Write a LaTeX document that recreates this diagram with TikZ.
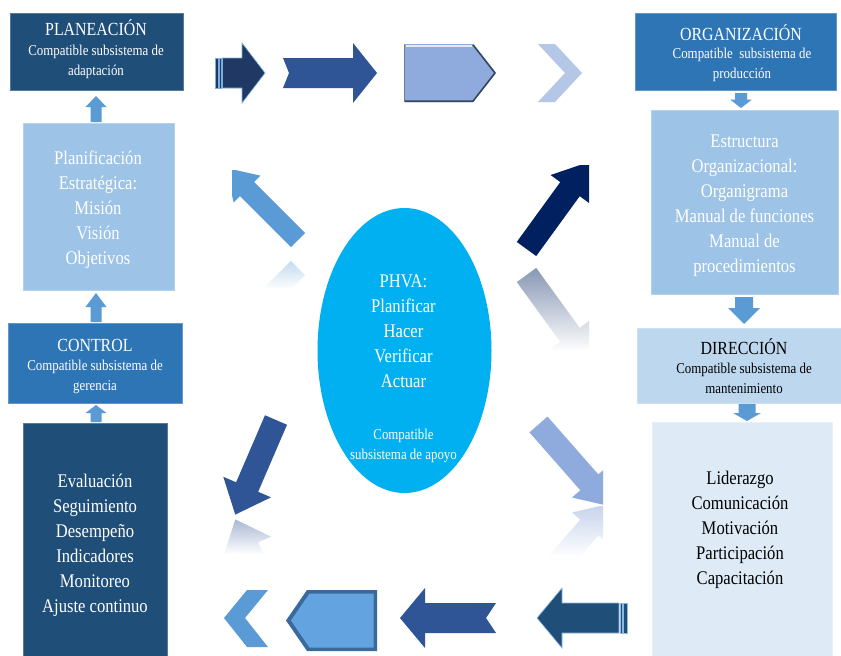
\documentclass[tikz,border=0pt]{standalone}
\usepackage{fontspec}
\setmainfont{Liberation Serif}[FakeStretch=0.86]
\usetikzlibrary{fadings,shapes.geometric}

\definecolor{cNavy}{HTML}{1F4E79}
\definecolor{cMid}{HTML}{2E75B6}
\definecolor{cLight}{HTML}{9DC3E6}
\definecolor{cPale}{HTML}{BDD7EE}
\definecolor{cPaler}{HTML}{DEEBF7}
\definecolor{cAccent}{HTML}{5B9BD5}
\definecolor{cDeep}{HTML}{203864}
\definecolor{cRoyal}{HTML}{2F5597}
\definecolor{cDark}{HTML}{002060}
\definecolor{cLav}{HTML}{8FAADC}
\definecolor{cLavPale}{HTML}{B4C7E7}
\definecolor{cSky}{HTML}{00B0F0}
\definecolor{cBevel}{HTML}{34465E}
\definecolor{cInset}{HTML}{3A6A9C}
\definecolor{cFace}{HTML}{63A3DF}

\newcommand\txtBody{\fontsize{19.3}{25}\selectfont}
\newcommand\txtHead{\fontsize{18.5}{22}\selectfont}
\newcommand\txtSub{\fontsize{15}{20}\selectfont}

% block arrow pointing along +x: shaft length #1, shaft half width #2,
% head half width #3, head length #4
\newcommand\arrowpath[4]{(0,-#2) -- (#1,-#2) -- (#1,-#3) -- ({#1+#4},0) -- (#1,#3) -- (#1,#2) -- (0,#2) -- cycle}

% vertical block arrow: x, tail y, head base y, tip y, shaft half, head half
\newcommand\vblock[6]{\fill[smallarr] ({#1-#5},#2) -- ({#1-#5},#3) -- ({#1-#6},#3) -- (#1,#4) -- ({#1+#6},#3) -- ({#1+#5},#3) -- ({#1+#5},#2) -- cycle;}

\tikzfading[name=reflfade, top color=transparent!100, bottom color=transparent!0]

\begin{document}
\begin{tikzpicture}[x=1pt,y=-1pt,
  box/.style={rectangle, inner sep=0pt, anchor=north west, draw=#1!75!white, line width=0.8pt, fill=#1},
  txt/.style={inner sep=0pt, align=center},
  body/.style={txt, font=\txtBody},
  head/.style={txt, font=\txtHead},
  sub/.style={txt, font=\txtSub},
  smallarr/.style={fill=cAccent}]
\useasboundingbox (0,0) rectangle (841,656);
\fill[white] (0,0) rectangle (841,656);

% ---------- left column ----------
\node[box=cNavy, minimum width=173pt, minimum height=77pt] (planbox) at (10,13) {};
\node[head, text=white] (planT) at (96,28) {PLANEACIÓN};
\node[sub, text=white] (planS) at (96,62) {Compatible subsistema de\\ adaptación};

\node[box=cLight, minimum width=151pt, minimum height=167pt] (strat) at (23,123) {};
\node[body, text=white] (stratT) at (98,210) {Planificación\\ Estratégica:\\ Misión\\ Visión\\ Objetivos};

\node[box=cMid, minimum width=174pt, minimum height=80pt] (ctrlbox) at (8,323) {};
\node[head, text=white] (ctrlT) at (95,345) {CONTROL};
\node[sub, text=white] (ctrlS) at (95,377) {Compatible subsistema de\\ gerencia};

\node[box=cNavy, minimum width=144pt, minimum height=240pt] (evalbox) at (23,423) {};
\node[body, text=white] (evalT) at (95,545) {Evaluación\\ Seguimiento\\ Desempeño\\ Indicadores\\ Monitoreo\\ Ajuste continuo};

\vblock{96}{122}{107}{96}{5.5}{10.5}
\vblock{96}{322}{307}{293}{5.5}{10.5}
\vblock{96}{422}{413}{405}{5.5}{10.5}

% ---------- right column ----------
\node[box=cMid, minimum width=201pt, minimum height=77pt] (orgbox) at (635,13) {};
\node[head, text=white] (orgT) at (741,33) {ORGANIZACIÓN};
\node[sub, text=white] (orgS) at (742,65) {Compatible~ subsistema de\\ producción};

\node[box=cLight, minimum width=187pt, minimum height=184pt] (estr) at (651,110) {};
\node[body, text=white] (estrT) at (744.5,206) {Estructura\\ Organizacional:\\ Organigrama\\ Manual de funciones\\ Manual de\\ procedimientos};

\node[box=cPale, minimum width=205pt, minimum height=75pt] (dirbox) at (637,328) {};
\node[head, text=black] (dirT) at (744,347) {DIRECCIÓN};
\node[sub, text=black] (dirS) at (744,378) {Compatible subsistema de\\ mantenimiento};

\node[box=cPaler, minimum width=180pt, minimum height=240pt] (lidbox) at (652,422) {};
\node[body, text=black] (lidT) at (740,530) {Liderazgo\\ Comunicación\\ Motivación\\ Participación\\ Capacitación};

\vblock{741}{93}{99.5}{108}{6}{11}
\vblock{744}{297}{308}{324}{9}{16}
\vblock{747}{404}{413}{421}{8.5}{14}

% ---------- central cycle ----------
\node[ellipse, fill=cSky, minimum width=174pt, minimum height=285pt, inner sep=0pt] (phva) at (404.5,350.5) {};
\node[body, text=white] (phvaT) at (403.5,331) {PHVA:\\ Planificar\\ Hacer\\ Verificar\\ Actuar};
\node[sub, text=white] (phvaS) at (403.5,446) {Compatible\\ subsistema de apoyo};

% ---------- top row of arrows ----------
\fill[cDeep, draw=cAccent!80!white, line width=0.6pt]
  (222.5,58) -- (242,58) -- (242,43) -- (265,73) -- (242,103) -- (242,88) -- (222.5,88) -- cycle;
\filldraw[fill=cDeep, draw=cAccent!80!white, line width=0.6pt] (215.5,58) rectangle (218.5,88);
\filldraw[fill=cDeep, draw=cAccent!80!white, line width=0.6pt] (219.6,58) rectangle (221.2,88);

\fill[cRoyal] (283,58) -- (353,58) -- (353,43) -- (377,73) -- (353,103) -- (353,88) -- (283,88) -- (289,73) -- cycle;

\fill[cLav] (404,44) -- (473,44) -- (496,73) -- (473,102) -- (404,102) -- cycle;
\draw[cBevel, line width=1.6pt, line join=round] (404.8,101.2) -- (473,101.2) -- (495,73) -- (473,44.8);
\draw[cBevel!70!white, line width=0.8pt] (404.4,44.5) -- (404.4,101.5);
\draw[white!75!cLav, line width=2pt] (405.5,46) -- (472,46);

\fill[cLavPale] (538,44) -- (555,44) -- (582,73) -- (555,102) -- (538,102) -- (565,73) -- cycle;

% ---------- bottom row of arrows ----------
\fill[cNavy, draw=cAccent!70!white, line width=0.6pt]
  (619,603) -- (562,603) -- (562,588) -- (537,618) -- (562,648) -- (562,633) -- (619,633) -- cycle;
\filldraw[fill=cNavy, draw=cAccent!70!white, line width=0.6pt] (620.2,603) rectangle (621.8,633);
\filldraw[fill=cNavy, draw=cAccent!70!white, line width=0.6pt] (623,603) rectangle (627.5,633);

\fill[cRoyal] (496,603) -- (425,603) -- (425,588) -- (400,618) -- (425,648) -- (425,633) -- (496,633) -- (486,618) -- cycle;

\fill[cInset] (286,620.5) -- (307,590) -- (377,590) -- (377,651) -- (307,651) -- cycle;
\fill[cFace] (291,620.5) -- (309.5,593.5) -- (373.5,593.5) -- (373.5,647.5) -- (309.5,647.5) -- cycle;

\fill[cAccent] (224,618) -- (247,590) -- (268,590) -- (245,618) -- (268,647) -- (247,647) -- cycle;

% ---------- diagonal arrows with their reflections ----------
% up-left
\begin{scope}
  \clip (232,170) rectangle (330,262);
  \fill[cAccent, shift={(298,240)}, rotate=135] \arrowpath{72}{10}{19}{30};
\end{scope}
\begin{scope}
  \clip (226,254) rectangle (314,288);
  \begin{scope}[shift={(0,508)}, yscale=-1]
    \fill[cAccent!45!white, shift={(298,240)}, rotate=135] \arrowpath{72}{10}{19}{30};
  \end{scope}
\end{scope}
\fill[white, path fading=reflfade] (226,254) rectangle (314,289);

% up-right
\begin{scope}
  \clip (500,165) rectangle (589,262);
  \fill[cDark, shift={(526.5,249)}, rotate=54] \arrowpath{74}{12}{24}{34};
\end{scope}
\begin{scope}
  \clip (505,262) rectangle (596,350);
  \begin{scope}[shift={(0,524)}, yscale=-1]
    \clip (500,165) rectangle (589,262);
    \fill[cDark!50!white, shift={(526.5,249)}, rotate=54] \arrowpath{74}{12}{24}{34};
  \end{scope}
\end{scope}
\fill[white, path fading=reflfade] (505,262) rectangle (596,351);

% down-left
\begin{scope}
  \clip (215,405) rectangle (300,516);
  \fill[cRoyal, shift={(276,420)}, rotate=246.7] \arrowpath{73}{12}{26}{30};
\end{scope}
\begin{scope}
  \clip (212,516) rectangle (300,553);
  \begin{scope}[shift={(0,1034)}, yscale=-1]
    \fill[cRoyal!45!white, shift={(276,420)}, rotate=246.7] \arrowpath{73}{12}{26}{30};
  \end{scope}
\end{scope}
\fill[white, path fading=reflfade] (212,516) rectangle (300,554);

% down-right
\begin{scope}
  \clip (520,405) rectangle (603,504);
  \fill[cLav, shift={(538.5,424.5)}, rotate=-48.7] \arrowpath{77}{12}{23}{32};
\end{scope}
\begin{scope}
  \clip (520,505) rectangle (606,556);
  \begin{scope}[shift={(0,1010)}, yscale=-1]
    \clip (520,405) rectangle (603,504);
    \fill[cLav!50!white, shift={(538.5,424.5)}, rotate=-48.7] \arrowpath{77}{12}{23}{32};
  \end{scope}
\end{scope}
\fill[white, path fading=reflfade] (520,505) rectangle (606,557);
\end{tikzpicture}
\end{document}
